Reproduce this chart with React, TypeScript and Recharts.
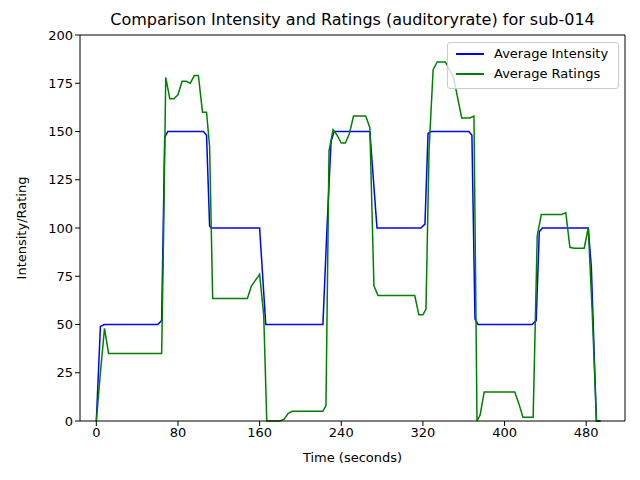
import React from 'react';
import { LineChart, Line, XAxis, YAxis } from 'recharts';

const intensityTimes = [0, 4, 8, 60, 64, 67, 70, 105, 108, 111, 113, 160, 166, 222, 226, 230, 233, 268, 275, 318, 322, 325, 328, 365, 368, 371, 374, 427, 431, 434, 437, 482, 485, 490, 494];
const intensityValues = [0, 49, 50, 50, 52, 147, 150, 150, 148, 101, 100, 100, 50, 50, 100, 145, 150, 150, 100, 100, 102, 149, 150, 150, 148, 53, 50, 50, 52, 98, 100, 100, 80, 0, 0];

const ratingTimes = [0, 4, 8, 12, 64, 66, 68, 72, 76, 80, 84, 88, 92, 96, 100, 104, 108, 111, 114, 148, 152, 156, 160, 164, 167, 180, 184, 188, 192, 222, 225, 228, 232, 236, 240, 244, 248, 252, 264, 268, 272, 276, 312, 316, 320, 323, 326, 330, 334, 342, 350, 358, 366, 370, 373, 376, 380, 410, 414, 418, 428, 432, 436, 456, 460, 464, 468, 478, 482, 486, 490, 494];
const ratingValues = [0, 25, 48, 35, 35, 100, 178, 167, 167, 169, 176, 176, 175, 179, 179, 160, 160, 142, 63.5, 63.5, 70, 73, 76, 55, 0, 0, 1, 4, 5, 5, 8, 140, 151, 148, 144, 144, 149, 158, 158, 152, 70, 65, 65, 55, 55, 58, 140, 182, 186, 186, 178, 157, 157, 158, 0, 3, 15, 15, 9, 2, 2, 96, 107, 107, 108, 90, 89.5, 89.5, 100, 55, 0, 0];

const xTicks = [0, 80, 160, 240, 320, 400, 480];
const yTicks = [0, 25, 50, 75, 100, 125, 150, 175, 200];

const intensity = intensityTimes.map((t, i) => ({ t, v: intensityValues[i] }));
const ratings = ratingTimes.map((t, i) => ({ t, v: ratingValues[i] }));

const font = 'DejaVu Sans';
const tickStyle = { fontSize: 13, fill: '#000', fontFamily: font };

export default function App() {
  return (
    <div style={{ position: 'absolute', left: 0, top: 0, width: 640, height: 480, background: '#fff', fontFamily: font }}>
      <div style={{ position: 'absolute', top: 10, left: 80, width: 545, textAlign: 'center', fontSize: 16 }}>
        Comparison Intensity and Ratings (auditoryrate) for sub-014
      </div>
      <LineChart width={640} height={480} margin={{ top: 34, right: 14, bottom: 29, left: 0 }}>
        <XAxis xAxisId="b" dataKey="t" type="number" domain={[-16, 518]} ticks={xTicks} allowDataOverflow
          stroke="#000" tickSize={5} tick={tickStyle} height={30} />
        <XAxis xAxisId="top" orientation="top" dataKey="t" type="number" domain={[-16, 518]} tick={false} tickLine={false} stroke="#000" height={1} />
        <YAxis yAxisId="l" domain={[0, 200]} ticks={yTicks} stroke="#000" tickSize={5} tick={tickStyle} width={80} />
        <YAxis yAxisId="r" orientation="right" domain={[0, 200]} tick={false} tickLine={false} stroke="#000" width={1} />
        <Line xAxisId="b" yAxisId="l" data={intensity} dataKey="v" stroke="#0000ff" strokeWidth={1.5} dot={false} isAnimationActive={false} />
        <Line xAxisId="b" yAxisId="l" data={ratings} dataKey="v" stroke="#008000" strokeWidth={1.5} dot={false} isAnimationActive={false} />
      </LineChart>
      <div style={{ position: 'absolute', top: 450, left: 80, width: 545, textAlign: 'center', fontSize: 13 }}>Time (seconds)</div>
      <div style={{ position: 'absolute', left: 21, top: 228, fontSize: 13, transform: 'translate(-50%, -50%) rotate(-90deg)', whiteSpace: 'nowrap' }}>Intensity/Rating</div>
      <div style={{ position: 'absolute', left: 447, top: 42, width: 170, height: 45, border: '1px solid #ccc', borderRadius: 3, background: 'rgba(255,255,255,0.8)', fontSize: 13 }}>
        {[['#0000ff', 'Average Intensity'], ['#008000', 'Average Ratings']].map(([c, n], i) => (
          <div key={n} style={{ position: 'absolute', left: 8, top: 3 + i * 20, display: 'flex', alignItems: 'center' }}>
            <div style={{ width: 28, height: 2, background: c, marginRight: 10 }} />
            <span>{n}</span>
          </div>
        ))}
      </div>
    </div>
  );
}
